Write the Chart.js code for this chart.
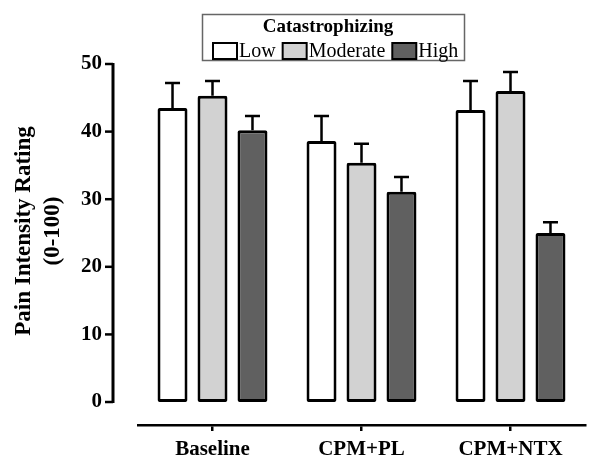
<!DOCTYPE html>
<html>
<head>
<meta charset="utf-8">
<script src="https://cdn.jsdelivr.net/npm/chart.js@4.4.1/dist/chart.umd.min.js"></script>
<style>
  html, body { margin: 0; padding: 0; background: #ffffff; }
  canvas { display: block; }
</style>
</head>
<body>
<canvas id="c" width="600" height="470"></canvas>
<script>
// ---- data ----
const categories = ['Baseline', 'CPM+PL', 'CPM+NTX'];
const seriesNames = ['Low', 'Moderate', 'High'];
const lowValues = [43.5, 38.6, 43.2];
const lowErrors = [3.7, 3.7, 4.3];
const moderateValues = [45.3, 35.4, 46.0];
const moderateErrors = [2.2, 2.8, 2.8];
const highValues = [40.2, 31.1, 25.0];
const highErrors = [2.1, 2.2, 1.6];
const yTicks = [0, 10, 20, 30, 40, 50];
const yTitleLines = ['Pain Intensity Rating', '(0-100)'];
const legendTitle = 'Catastrophizing';

const errorsBySeries = [lowErrors, moderateErrors, highErrors];
const fills = ['#ffffff', '#d2d2d2', '#606060'];
const SERIF = '"Liberation Serif", "Times New Roman", serif';

const errorBarPlugin = {
  id: 'errorBars',
  afterDatasetsDraw(chart) {
    const ctx = chart.ctx;
    const y = chart.scales.y;
    ctx.save();
    ctx.strokeStyle = '#000';
    ctx.lineWidth = 2.5;
    chart.data.datasets.forEach((ds, i) => {
      const meta = chart.getDatasetMeta(i);
      meta.data.forEach((bar, j) => {
        const v = ds.data[j];
        const e = errorsBySeries[i][j];
        const yTop = y.getPixelForValue(v);
        const yErr = y.getPixelForValue(v + e);
        ctx.beginPath();
        ctx.moveTo(bar.x, yTop);
        ctx.lineTo(bar.x, yErr);
        ctx.moveTo(bar.x - 7.5, yErr);
        ctx.lineTo(bar.x + 7.5, yErr);
        ctx.stroke();
      });
    });
    ctx.restore();
  }
};

const yAxisPlugin = {
  id: 'yAxisLine',
  afterDraw(chart) {
    const ctx = chart.ctx;
    const y = chart.scales.y;
    const ax = chart.chartArea.left - 25;
    ctx.save();
    ctx.strokeStyle = '#000';
    ctx.lineWidth = 3;
    ctx.beginPath();
    ctx.moveTo(ax, y.getPixelForValue(yTicks[0]) + 1);
    ctx.lineTo(ax, y.getPixelForValue(yTicks[yTicks.length - 1]) - 1);
    ctx.stroke();
    ctx.lineWidth = 2.5;
    yTicks.forEach(v => {
      const py = y.getPixelForValue(v);
      ctx.beginPath();
      ctx.moveTo(ax - 8, py);
      ctx.lineTo(ax, py);
      ctx.stroke();
    });
    // axis title
    ctx.fillStyle = '#000';
    ctx.font = 'bold 23px ' + SERIF;
    ctx.textAlign = 'center';
    ctx.textBaseline = 'middle';
    const cy = 231;
    [24, 53].forEach((cx, k) => {
      ctx.save();
      ctx.translate(cx, cy);
      ctx.rotate(-Math.PI / 2);
      ctx.fillText(yTitleLines[k], 0, 0);
      ctx.restore();
    });
    ctx.restore();
  }
};

const legendPlugin = {
  id: 'boxLegend',
  afterDraw(chart) {
    const ctx = chart.ctx;
    ctx.save();
    ctx.strokeStyle = '#666';
    ctx.lineWidth = 1.5;
    ctx.strokeRect(202.5, 14.5, 262, 46);
    ctx.fillStyle = '#000';
    ctx.font = 'bold 19px ' + SERIF;
    ctx.textAlign = 'center';
    ctx.textBaseline = 'middle';
    ctx.fillText(legendTitle, 328, 27);
    ctx.font = '20px ' + SERIF;
    ctx.textAlign = 'left';
    let x = 213;
    chart.data.datasets.forEach((ds) => {
      ctx.fillStyle = ds.backgroundColor;
      ctx.fillRect(x, 43, 24, 16);
      ctx.strokeStyle = '#000';
      ctx.lineWidth = 2;
      ctx.strokeRect(x, 43, 24, 16);
      ctx.fillStyle = '#000';
      const tx = x + 26;
      ctx.fillText(ds.label, tx, 52);
      x = tx + ctx.measureText(ds.label).width + 7;
    });
    ctx.restore();
  }
};

const valuesBySeries = [lowValues, moderateValues, highValues];

new Chart(document.getElementById('c'), {
  type: 'bar',
  data: {
    labels: categories,
    datasets: seriesNames.map((name, i) => ({
      label: name,
      data: valuesBySeries[i],
      backgroundColor: fills[i],
      borderColor: '#000',
      borderWidth: 3,
      borderSkipped: false,
      borderRadius: 2,
      categoryPercentage: 0.805,
      barPercentage: 0.75
    }))
  },
  options: {
    responsive: false,
    animation: false,
    layout: { padding: { top: 64, right: 15, left: 0, bottom: 0 } },
    plugins: {
      legend: { display: false },
      tooltip: { enabled: false }
    },
    scales: {
      x: {
        grid: {
          display: true,
          drawOnChartArea: false,
          drawTicks: true,
          tickLength: 6,
          offset: false,
          color: '#000',
          lineWidth: 2.5
        },
        border: { display: true, color: '#000', width: 2.5 },
        ticks: {
          color: '#000',
          padding: 6,
          font: { family: SERIF, size: 21, weight: 'bold' }
        },
        afterFit(scale) { scale.height = 45; }
      },
      y: {
        min: -3.4,
        max: 50,
        grid: { display: false, drawTicks: true, tickLength: 32 },
        border: { display: false },
        ticks: {
          color: '#000',
          padding: 4,
          font: { family: SERIF, size: 21, weight: 'bold' }
        },
        afterBuildTicks(scale) {
          scale.ticks = yTicks.map(v => ({ value: v }));
        },
        afterFit(scale) { scale.width = 138; },
        title: { display: false }
      }
    }
  },
  plugins: [errorBarPlugin, yAxisPlugin, legendPlugin]
});
</script>
</body>
</html>
